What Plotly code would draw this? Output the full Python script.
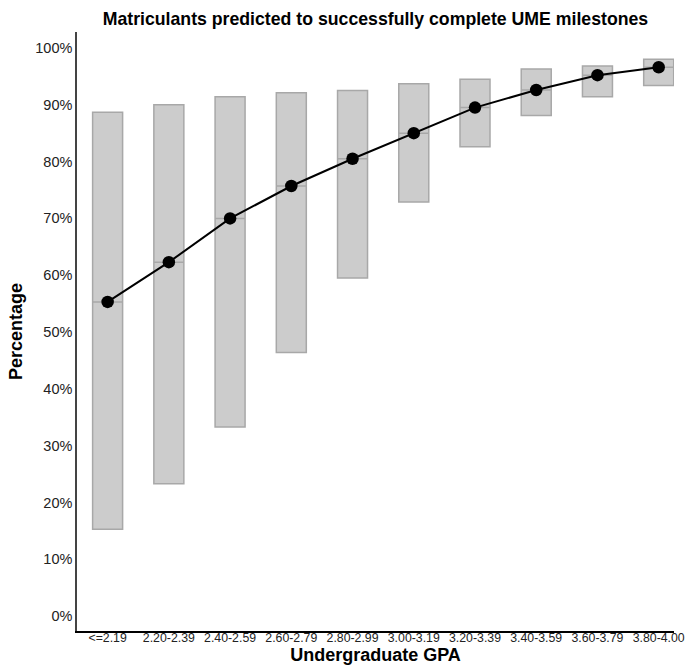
import plotly.graph_objects as go

categories = ["<=2.19", "2.20-2.39", "2.40-2.59", "2.60-2.79", "2.80-2.99",
              "3.00-3.19", "3.20-3.39", "3.40-3.59", "3.60-3.79", "3.80-4.00"]
low = [15.3, 23.3, 33.3, 46.4, 59.5, 72.9, 82.6, 88.1, 91.4, 93.4]
high = [88.7, 90.0, 91.4, 92.1, 92.5, 93.7, 94.5, 96.3, 96.8, 98.0]
predicted = [55.3, 62.3, 70.0, 75.7, 80.5, 85.0, 89.5, 92.6, 95.2, 96.6]
y_ticks = list(range(0, 101, 10))
y_tick_labels = [f"{v}%" for v in y_ticks]

fig = go.Figure()
fig.add_trace(go.Box(
    x=categories, q1=low, median=predicted, q3=high,
    lowerfence=low, upperfence=high,
    fillcolor="#cccccc", line=dict(color="#a8a8a8", width=1.5),
    width=0.49, whiskerwidth=0, showlegend=False, hoverinfo="skip",
))
fig.add_trace(go.Scatter(
    x=categories, y=predicted, mode="lines+markers",
    line=dict(color="black", width=2),
    marker=dict(color="black", size=12.5),
    showlegend=False,
))

fig.update_layout(
    width=687, height=671,
    margin=dict(l=77, r=13, t=32, b=40, autoexpand=False),
    paper_bgcolor="white", plot_bgcolor="white",
    title=dict(text="<b>Matriculants predicted to successfully complete UME milestones</b>",
               x=0.5465, xanchor="center", y=1 - 18.5 / 671, yanchor="middle",
               font=dict(family="Liberation Sans, Arial", size=17.7, color="black")),
    font=dict(family="Liberation Sans, Arial", color="#222"),
)
fig.update_xaxes(
    type="category", range=[-0.5, 9.25], showgrid=False, zeroline=False,
    showline=True, linecolor="black", linewidth=1.5, ticks="", automargin=False,
    ticklabelstandoff=-6,
    tickfont=dict(size=12.3, color="#222"),
    title=dict(text="<b>Undergraduate GPA</b>", font=dict(size=18, color="black"), standoff=0),
)
fig.update_yaxes(
    range=[-2.6, 102.8], tickmode="array", tickvals=y_ticks, ticktext=y_tick_labels,
    showgrid=False, zeroline=False, automargin=False,
    showline=True, linecolor="#444", linewidth=1.5, ticks="",
    tickfont=dict(size=14.5, color="#222"),
    title=dict(text="<b>Percentage</b>", font=dict(size=18, color="black"), standoff=8),
)

fig.write_html("out.html", config={"displayModeBar": False},
               post_script="document.body.style.margin='0';document.body.style.overflow='hidden';")
